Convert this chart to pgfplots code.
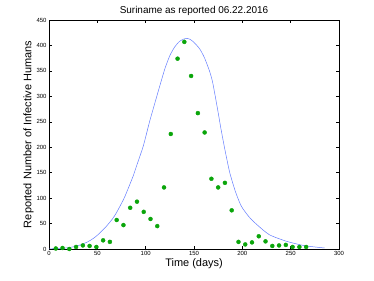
\documentclass[border=0pt]{standalone}
\usepackage{pgfplots}
\pgfplotsset{compat=1.18}
\usepackage{fontspec}
\setmainfont{Liberation Sans}
\definecolor{ptgreen}{RGB}{10,165,10}
\definecolor{curveblue}{RGB}{100,125,255}
\begin{document}
\begin{tikzpicture}[x=1bp,y=1bp]
\useasboundingbox (0,0) rectangle (374,281);
\begin{axis}[
  at={(49bp,32bp)}, anchor=south west,
  scale only axis, width=290bp, height=229bp,
  xmin=0, xmax=300, ymin=0, ymax=450,
  xtick={0,50,...,300}, ytick={0,50,...,450},
  tick align=inside, major tick length=3bp,
  tick style={black, line width=0.4pt},
  axis line style={black, line width=0.5pt},
  tick label style={font=\fontsize{6}{7}\selectfont},
  /pgf/number format/assume math mode=true,
  xlabel={Time (days)}, ylabel={Reported Number of Infective Humans},
  label style={font=\fontsize{11}{12}\selectfont},
  xlabel style={yshift=4bp},
  ylabel style={yshift=-4bp},
  title={Suriname as reported 06.22.2016},
  title style={font=\fontsize{10}{11}\selectfont, yshift=-5bp},
  xticklabel style={yshift=1bp},
  yticklabel style={xshift=1bp},
]
\addplot[curveblue, line width=0.5pt, smooth, tension=0.4] coordinates {
(0,0.3) (10,1) (20,2.5) (30,6.5) (40,14) (46,21) (50,27) (56,38) (60,46)
(66,60) (70,72) (77,97) (80,110) (87,143) (90,160) (97,199) (100,220)
(104,250) (110,290) (115,323) (120,355) (125,380) (130,397) (135,408)
(140,413) (143,414) (146,412) (150,406) (156,393) (161,375) (166,350)
(169,330) (172,300) (175,268) (178,235) (182,195) (187,150) (193,112)
(199,84) (207,63) (215,48) (228,28) (246,15) (263,7) (275,4) (285,2)
};
\addplot[only marks, mark=*, mark size=2bp, ptgreen, mark options={fill=ptgreen, draw=ptgreen}] coordinates {
(7,1) (14,2) (21,0) (28,4) (35,7) (42,6) (49,4) (56,17) (63,14) (70,57)
(77,47) (84,81) (91,93) (98,73) (105,59) (112,45) (119,121) (126,226)
(133,374) (140,407) (147,340) (154,267) (161,229) (168,138) (175,121)
(182,130) (189,76) (196,14) (203,9) (210,13) (217,25) (224,15) (231,6)
(238,7) (245,8) (252,4) (259,4) (266,4)
};
\end{axis}
\end{tikzpicture}
\end{document}
